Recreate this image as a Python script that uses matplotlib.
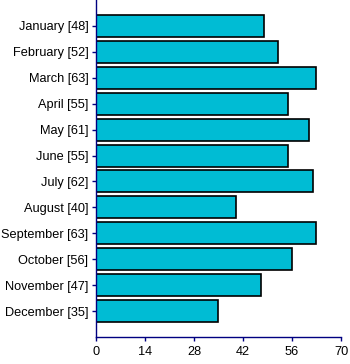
import matplotlib.pyplot as plt

months = ['January', 'February', 'March', 'April', 'May', 'June', 'July',
          'August', 'September', 'October', 'November', 'December']
values = [48, 52, 63, 55, 61, 55, 62, 40, 63, 56, 47, 35]
xticks = [0, 14, 28, 42, 56, 70]

plt.rcParams['font.family'] = ['Liberation Sans', 'DejaVu Sans']

fig = plt.figure(figsize=(3.5, 3.64), dpi=100, facecolor='white')
ax = fig.add_axes([96 / 350, 1 - 337 / 364, 245 / 350, 337 / 364])

pos = list(range(len(months)))
ax.barh(pos, values, height=0.85, color='#00BCD4', edgecolor='black', linewidth=1.2)

labels = ['%s [%d]' % (m, v) for m, v in zip(months, values)]
ax.set_yticks(pos)
ax.set_yticklabels(labels)
ax.set_ylim(12, -1)
ax.set_xlim(0, 70)
ax.set_xticks(xticks)

for s in ['top', 'right']:
    ax.spines[s].set_visible(False)
for s in ['left', 'bottom']:
    ax.spines[s].set_color('#000080')
    ax.spines[s].set_linewidth(1)
ax.tick_params(axis='both', colors='#000080', labelcolor='black', labelsize=9.2, length=3, width=1)
ax.tick_params(axis='y', pad=2.5)

fig.savefig('out.png', dpi=100)
